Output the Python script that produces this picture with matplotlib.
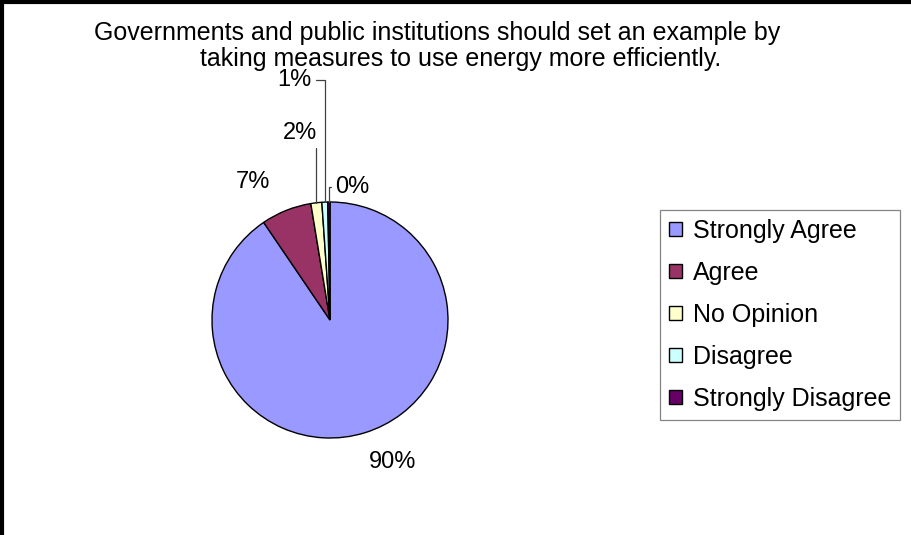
import numpy as np
import matplotlib.pyplot as plt
from matplotlib.patches import Patch
from matplotlib.lines import Line2D

plt.rcParams['font.family'] = ['Liberation Sans', 'DejaVu Sans']

categories = ["Strongly Agree", "Agree", "No Opinion", "Disagree", "Strongly Disagree"]
shares = [90.5, 6.9, 1.5, 0.8, 0.3]
colors = ["#9999FF", "#993366", "#FFFFCC", "#CCFFFF", "#660066"]
title_lines = ["Governments and public institutions should set an example by",
               "taking measures to use energy more efficiently."]

# label positions (pie radius = 1), and whether a leader line is drawn
label_pos = [(0.53, -1.20), (-0.65, 1.17), (-0.25, 1.585), (-0.30, 2.03), (0.19, 1.125)]
leader = [False, False, True, True, True]

W, H = 912, 535
fig = plt.figure(figsize=(W / 100, H / 100), dpi=100)
cx, cy, r = 330, 320, 118
ax = fig.add_axes([(cx - r) / W, (H - cy - r) / H, 2 * r / W, 2 * r / H])

wedges, _ = ax.pie(shares, colors=colors, startangle=90, counterclock=False,
                   wedgeprops=dict(edgecolor="black", linewidth=1.0))
ax.set_xlim(-1, 1)
ax.set_ylim(-1, 1)
ax.set_aspect("equal")
ax.axis("off")

fs = 17
total = sum(shares)
for i, (w, v) in enumerate(zip(wedges, shares)):
    txt = "%d%%" % round(v / total * 100)
    mid = np.deg2rad((w.theta1 + w.theta2) / 2)
    px, py = np.cos(mid), np.sin(mid)
    lx, ly = label_pos[i]
    if leader[i]:
        ax.annotate(txt, xy=(px, py), xytext=(lx, ly), ha="center", va="center",
                    fontsize=fs, annotation_clip=False,
                    arrowprops=dict(arrowstyle="-", color="0.25", lw=0.9,
                                    shrinkA=1, shrinkB=0,
                                    connectionstyle="angle,angleA=0,angleB=90,rad=0"))
    else:
        ax.text(lx, ly, txt, ha="center", va="center", fontsize=fs)

fig.text(437 / W, 1 - 33 / H, title_lines[0], ha="center", va="center", fontsize=18)
fig.text(461 / W, 1 - 59 / H, title_lines[1], ha="center", va="center", fontsize=18)

handles = [Patch(facecolor=c, edgecolor="black", linewidth=1.0) for c in colors]
leg = fig.legend(handles, categories, loc="upper left",
                 bbox_to_anchor=(660 / W, 1 - 210 / H), fontsize=18,
                 frameon=True, fancybox=False, edgecolor="0.4",
                 handlelength=0.52, handleheight=0.52, handletextpad=0.44,
                 labelspacing=0.72, borderpad=0.36, borderaxespad=0)
leg.get_frame().set_linewidth(0.9)

# chart-area border (left, top, right edge)
fig.add_artist(Line2D([0.002, 0.002], [0, 1], transform=fig.transFigure, color="black", lw=3))
fig.add_artist(Line2D([0, 1], [0.997, 0.997], transform=fig.transFigure, color="black", lw=3))
fig.add_artist(Line2D([0.9995, 0.9995], [0, 1], transform=fig.transFigure, color="0.3", lw=1))

fig.savefig("out.png", dpi=100)
